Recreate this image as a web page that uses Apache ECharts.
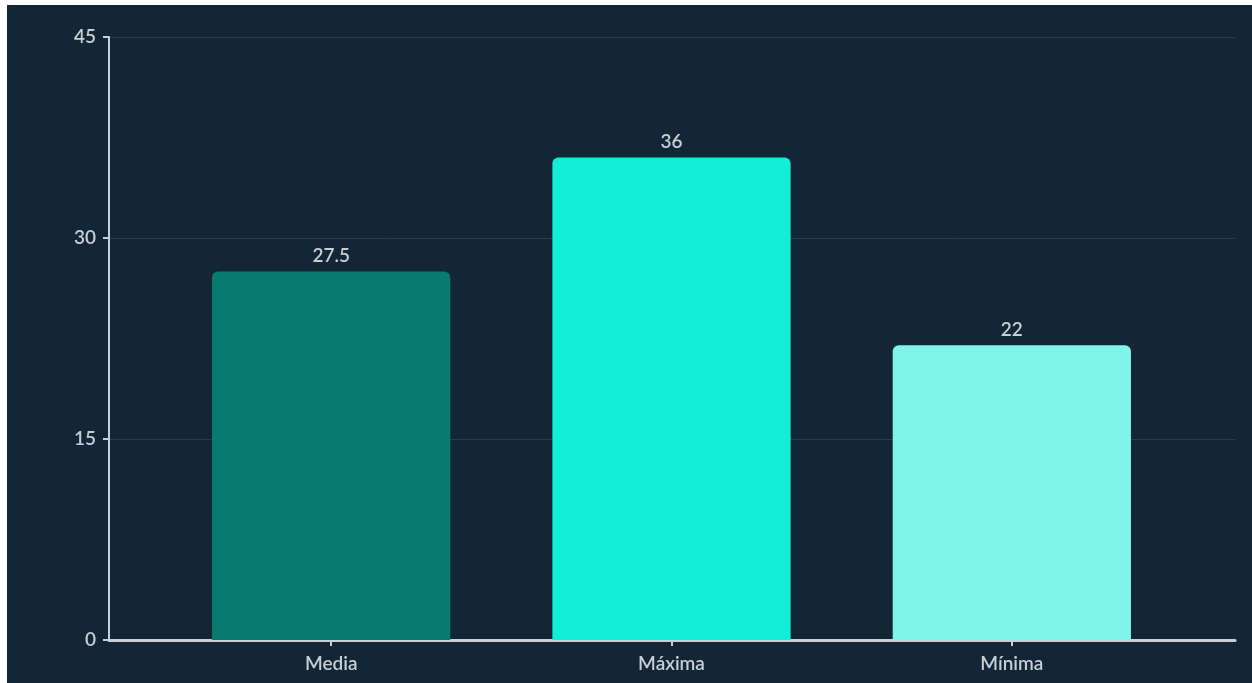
<!DOCTYPE html>
<html>
<head>
<meta charset="utf-8">
<script src="https://cdn.jsdelivr.net/npm/echarts@6/dist/echarts.min.js"></script>
<style>
  html, body { margin: 0; padding: 0; background: #fff; }
  #chart { position: absolute; left: 7px; top: 5px; width: 1245px; height: 678px; background: #132636; }
</style>
</head>
<body>
<div id="chart"></div>
<script>
// datos del gráfico
var categorias = ['Media', 'Máxima', 'Mínima'];
var valores = [27.5, 36, 22];
var coloresBarras = ['#0a7b70', '#11efd9', '#7ff5ea'];
var yMin = 0, yMax = 45, yPaso = 15;

var textoColor = '#c7ced5';
var fuente = 'Lato';

var myChart = echarts.init(document.getElementById('chart'));

var option = {
  backgroundColor: '#132636',
  animation: false,
  grid: [
    // rejilla principal: eje y + línea del eje x
    { left: 102, top: 32, width: 1126, height: 603 },
    // rejilla de las barras (centros de categoría desplazados)
    { left: 154, top: 32, width: 1021, height: 603 }
  ],
  xAxis: [
    {
      gridIndex: 0, type: 'value', min: 0, max: 1,
      axisLine: { show: true, lineStyle: { color: '#c9d1d8', width: 3 } },
      axisTick: { show: false },
      axisLabel: { show: false },
      splitLine: { show: false }
    },
    {
      gridIndex: 1, type: 'category', data: categorias,
      axisLine: { show: false },
      axisTick: { show: true, alignWithLabel: true, length: 6, lineStyle: { color: '#c9d1d8', width: 2 } },
      axisLabel: { color: textoColor, fontFamily: fuente, fontSize: 19, fontWeight: 600, margin: 14 },
      splitLine: { show: false }
    }
  ],
  yAxis: [
    {
      gridIndex: 0, type: 'value', min: yMin, max: yMax, interval: yPaso,
      axisLine: { show: true, lineStyle: { color: '#c9d1d8', width: 2 } },
      axisTick: { show: true, length: 6, lineStyle: { color: '#c9d1d8', width: 2 } },
      axisLabel: { color: textoColor, fontFamily: fuente, fontSize: 19, fontWeight: 600, margin: 13 },
      splitLine: { show: true, lineStyle: { color: '#2a3c4b', width: 1 } }
    },
    {
      gridIndex: 1, type: 'value', min: yMin, max: yMax, interval: yPaso, show: false
    }
  ],
  series: [{
    type: 'bar',
    xAxisIndex: 1,
    yAxisIndex: 1,
    barWidth: '70%',
    data: valores.map(function (v, i) {
      return { value: v, itemStyle: { color: coloresBarras[i] } };
    }),
    itemStyle: { borderRadius: [6, 6, 0, 0] },
    label: {
      show: true, position: 'top', distance: 6,
      color: textoColor, fontFamily: fuente, fontSize: 19, fontWeight: 600
    }
  }]
};

myChart.setOption(option);
</script>
</body>
</html>
